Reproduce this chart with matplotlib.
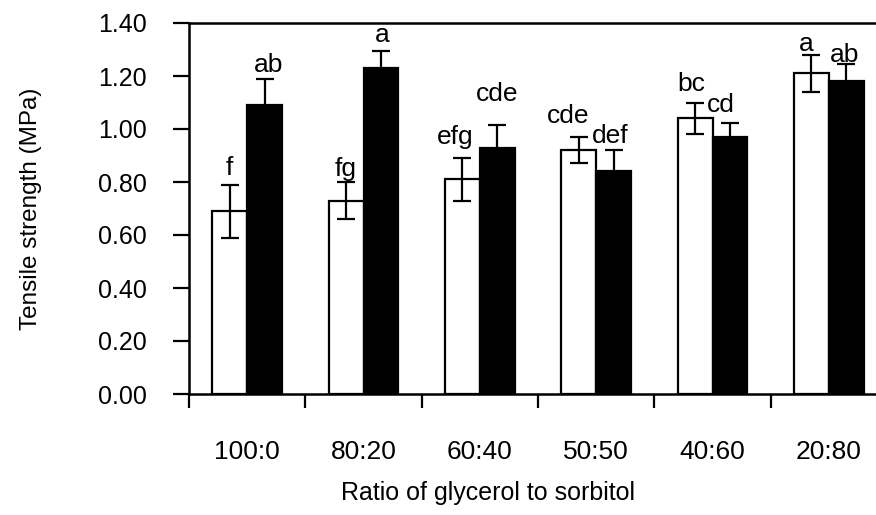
import matplotlib
matplotlib.use("Agg")
import matplotlib.pyplot as plt
import numpy as np

# ---- data ----
categories = ["100:0", "80:20", "60:40", "50:50", "40:60", "20:80"]
series_white = [0.69, 0.73, 0.81, 0.92, 1.04, 1.21]
err_white = [0.10, 0.07, 0.08, 0.05, 0.06, 0.07]
series_black = [1.09, 1.23, 0.93, 0.84, 0.97, 1.18]
err_black = [0.10, 0.065, 0.085, 0.08, 0.053, 0.065]
letters_white = ["f", "fg", "efg", "cde", "bc", "a"]
letters_black = ["ab", "a", "cde", "def", "cd", "ab"]
yticks = [0.0, 0.2, 0.4, 0.6, 0.8, 1.0, 1.2, 1.4]

# text placement (layout): baseline heights and horizontal nudges (in bar widths)
letter_y_white = [0.826, 0.824, 0.943, 1.024, 1.145, 1.296]
letter_dx_white = [0.0, 0.0, -0.2, -0.3, -0.1, -0.15]
letter_y_black = [1.216, 1.330, 1.106, 0.946, 1.063, 1.254]
letter_dx_black = [0.1, 0.05, 0.0, -0.1, -0.25, -0.05]

plt.rcParams['font.family'] = ['Liberation Sans', 'DejaVu Sans']

W, H = 876, 515
fig = plt.figure(figsize=(W / 100, H / 100), dpi=100)
left, right, top, bottom = 189, 887, 23, 394
ax = fig.add_axes([left / W, 1 - bottom / H, (right - left) / W, (bottom - top) / H])

x = np.arange(len(categories))
bw = 0.30
lw = 1.6
ax.bar(x - bw / 2, series_white, bw, color="white", edgecolor="black", linewidth=lw, zorder=2)
ax.bar(x + bw / 2, series_black, bw, color="black", edgecolor="black", linewidth=lw, zorder=2)
ax.errorbar(x - bw / 2, series_white, yerr=err_white, fmt="none", ecolor="black",
            elinewidth=1.6, capsize=6.5, capthick=1.6, zorder=3)
ax.errorbar(x + bw / 2, series_black, yerr=err_black, fmt="none", ecolor="black",
            elinewidth=1.6, capsize=6.5, capthick=1.6, zorder=3)

fs_letter = 19
for i in range(len(categories)):
    ax.text(x[i] - bw / 2 + letter_dx_white[i] * bw, letter_y_white[i], letters_white[i],
            ha="center", va="baseline", fontsize=fs_letter, zorder=4)
    ax.text(x[i] + bw / 2 + letter_dx_black[i] * bw, letter_y_black[i], letters_black[i],
            ha="center", va="baseline", fontsize=fs_letter, zorder=4)

ax.set_xlim(-0.5, 5.5)
ax.set_ylim(0, 1.4)
ax.set_yticks(yticks)
ax.set_yticklabels([f"{v:.2f}" for v in yticks])

# major ticks at group boundaries (no labels), minor at centers (labels)
ax.set_xticks(np.arange(len(categories) + 1) - 0.5)
ax.set_xticklabels([])
ax.set_xticks(x, minor=True)
ax.set_xticklabels(categories, minor=True)
ax.tick_params(axis="x", which="major", direction="out", length=10, width=1.6)
ax.tick_params(axis="x", which="minor", length=0, pad=33, labelsize=19)
ax.tick_params(axis="y", direction="out", length=11.5, width=1.6, pad=19, labelsize=18)

for s in ["left", "bottom", "top"]:
    ax.spines[s].set_linewidth(1.8)
ax.spines["right"].set_visible(False)

ax.set_ylabel("Tensile strength (MPa)", fontsize=17.5, labelpad=40)
ax.set_xlabel("Ratio of glycerol to sorbitol", fontsize=18, labelpad=16)
ax.xaxis.set_label_coords(0.428, -0.235)

fig.savefig("out.png", dpi=100)
